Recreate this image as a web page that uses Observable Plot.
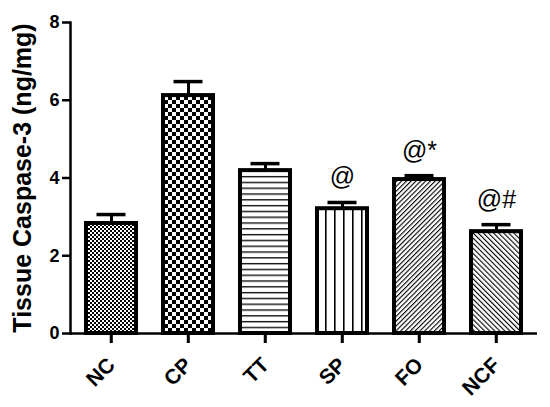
<!DOCTYPE html>
<html>
<head>
<meta charset="utf-8">
<script src="https://cdn.jsdelivr.net/npm/d3@7"></script>
<script src="https://cdn.jsdelivr.net/npm/@observablehq/plot@0.6"></script>
<style>
  html, body { margin: 0; padding: 0; background: #fff; }
  svg { font-family: Arial, "Liberation Sans", sans-serif; }
</style>
</head>
<body>
<div id="chart"></div>
<script>
const groups = ["NC", "CP", "TT", "SP", "FO", "NCF"];
const means = [2.83, 6.12, 4.19, 3.21, 3.96, 2.62];
const sems = [0.23, 0.36, 0.18, 0.16, 0.10, 0.18];
const marks = ["", "", "", "@", "@*", "@#"];
const yTicks = [0, 2, 4, 6, 8];
const yLabel = "Tissue Caspase-3 (ng/mg)";

const data = groups.map((g, i) => ({group: g, mean: means[i], sem: sems[i], top: means[i] + sems[i], mark: marks[i]}));

const chart = Plot.plot({
  width: 550,
  height: 407,
  marginLeft: 70,
  marginRight: 13,
  marginTop: 22,
  marginBottom: 74,
  style: {fontFamily: 'Arial, "Liberation Sans", sans-serif', color: "black", background: "white"},
  x: {domain: groups, paddingInner: 0.35, paddingOuter: 0.175},
  y: {domain: [0, 8]},
  color: {type: "identity"},
  marks: [
    Plot.barY(data, {x: "group", y: "mean", fill: d => `url(#pat-${d.group})`, stroke: "black", strokeWidth: 4}),
    Plot.ruleX(data, {x: "group", y1: "mean", y2: "top", stroke: "black", strokeWidth: 3}),
    Plot.tickY(data, {x: "group", y: "top", stroke: "black", strokeWidth: 3.5, insetLeft: 10.5, insetRight: 10.5}),
    Plot.ruleY([0], {stroke: "black", strokeWidth: 2.5}),
    Plot.frame({anchor: "left", stroke: "black", strokeWidth: 2.5}),
    Plot.axisY({ticks: yTicks, tickSize: 8, strokeWidth: 2.5, fontSize: 18, fontWeight: "bold", tickPadding: 3, label: null}),
    Plot.axisX({tickSize: 10, strokeWidth: 2.5, tickRotate: -45, fontSize: 21, fontWeight: "bold", tickPadding: 18, label: null}),
    Plot.text([yLabel], {frameAnchor: "left", textAnchor: "middle", dx: -48, rotate: -90, fontSize: 25, fontWeight: "bold", fill: "black"}),
    Plot.text(data.filter(d => d.mark), {x: "group", y: "top", text: "mark", dy: -25, fontSize: 25, fill: "black", lineAnchor: "middle"})
  ]
});

const svg = d3.select(chart);
const defs = svg.insert("defs", ":first-child");
function pat(id, w, h, transform) {
  const p = defs.append("pattern").attr("id", id).attr("patternUnits", "userSpaceOnUse").attr("width", w).attr("height", h);
  if (transform) p.attr("patternTransform", transform);
  p.append("rect").attr("width", w).attr("height", h).attr("fill", "white");
  return p;
}
// NC: fine checkerboard
let p = pat("pat-NC", 4, 4);
p.append("rect").attr("x", 0).attr("y", 0).attr("width", 2).attr("height", 2).attr("fill", "black");
p.append("rect").attr("x", 2).attr("y", 2).attr("width", 2).attr("height", 2).attr("fill", "black");
// CP: coarse checkerboard
p = pat("pat-CP", 8, 8);
p.append("rect").attr("x", 0).attr("y", 0).attr("width", 4).attr("height", 4).attr("fill", "black");
p.append("rect").attr("x", 4).attr("y", 4).attr("width", 4).attr("height", 4).attr("fill", "black");
// TT: horizontal lines
p = pat("pat-TT", 10, 5.8);
p.append("rect").attr("x", 0).attr("y", 2).attr("width", 10).attr("height", 1.3).attr("fill", "black");
// SP: vertical lines
p = pat("pat-SP", 9, 10);
p.append("rect").attr("x", 1).attr("y", 0).attr("width", 1.6).attr("height", 10).attr("fill", "black");
// FO: "/" diagonals
p = pat("pat-FO", 3.4, 10, "rotate(45)");
p.append("rect").attr("x", 0).attr("y", 0).attr("width", 1.1).attr("height", 10).attr("fill", "black");
// NCF: "\" diagonals
p = pat("pat-NCF", 3.6, 10, "rotate(-45)");
p.append("rect").attr("x", 0).attr("y", 0).attr("width", 1.1).attr("height", 10).attr("fill", "black");

// x-axis tick marks drawn from the chart's own scales
const xs = chart.scale("x");
const ys = chart.scale("y");
const y0 = ys.apply(0);
const tickG = svg.append("g").attr("aria-label", "x-ticks");
groups.forEach(g => {
  const cx = xs.apply(g) + xs.bandwidth / 2;
  tickG.append("line")
    .attr("x1", cx).attr("x2", cx)
    .attr("y1", y0).attr("y2", y0 + 10)
    .attr("stroke", "black").attr("stroke-width", 2.5);
});

document.getElementById("chart").appendChild(chart);
</script>
</body>
</html>
